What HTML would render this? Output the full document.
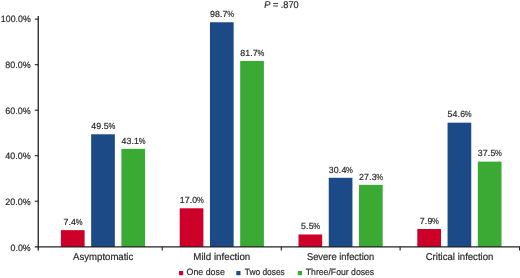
<!DOCTYPE html>
<html><head><meta charset="utf-8"><title>chart</title>
<style>
html,body{margin:0;padding:0;background:#fff;}
body{width:520px;height:278px;overflow:hidden;font-family:"Liberation Sans",sans-serif;}
svg{display:block;will-change:transform;}
text{font-family:"Liberation Sans",sans-serif;fill:#2b2b2b;text-rendering:geometricPrecision;}
</style></head><body>
<svg width="520" height="278" viewBox="0 0 520 278">
<rect width="520" height="278" fill="#ffffff"/>

<rect x="60.90" y="230.15" width="23.7" height="16.85" fill="#cc0029"/>
<text y="224.90" font-size="8.8" stroke="#2b2b2b" stroke-width="0.2" x="63.44 68.44 71.04">7.4</text><text transform="translate(75.69,224.90) scale(0.87,1)" font-size="8.8" stroke="#2b2b2b" stroke-width="0.2">%</text>
<rect x="91.15" y="134.29" width="23.7" height="112.71" fill="#1b4a86"/>
<text y="129.04" font-size="8.8" stroke="#2b2b2b" stroke-width="0.2" x="91.19 96.19 101.19 103.79">49.5</text><text transform="translate(108.44,129.04) scale(0.87,1)" font-size="8.8" stroke="#2b2b2b" stroke-width="0.2">%</text>
<rect x="121.40" y="148.86" width="23.7" height="98.14" fill="#3aaa35"/>
<text y="143.61" font-size="8.8" stroke="#2b2b2b" stroke-width="0.2" x="121.44 126.44 131.44 134.04">43.1</text><text transform="translate(138.69,143.61) scale(0.87,1)" font-size="8.8" stroke="#2b2b2b" stroke-width="0.2">%</text>
<rect x="179.70" y="208.29" width="23.7" height="38.71" fill="#cc0029"/>
<text y="203.04" font-size="8.8" stroke="#2b2b2b" stroke-width="0.2" x="179.74 184.74 189.74 192.34">17.0</text><text transform="translate(196.99,203.04) scale(0.87,1)" font-size="8.8" stroke="#2b2b2b" stroke-width="0.2">%</text>
<rect x="209.95" y="22.26" width="23.7" height="224.74" fill="#1b4a86"/>
<text y="17.01" font-size="8.8" stroke="#2b2b2b" stroke-width="0.2" x="209.99 214.99 219.99 222.59">98.7</text><text transform="translate(227.24,17.01) scale(0.87,1)" font-size="8.8" stroke="#2b2b2b" stroke-width="0.2">%</text>
<rect x="240.20" y="60.97" width="23.7" height="186.03" fill="#3aaa35"/>
<text y="55.72" font-size="8.8" stroke="#2b2b2b" stroke-width="0.2" x="240.24 245.24 250.24 252.84">81.7</text><text transform="translate(257.49,55.72) scale(0.87,1)" font-size="8.8" stroke="#2b2b2b" stroke-width="0.2">%</text>
<rect x="298.50" y="234.48" width="23.7" height="12.52" fill="#cc0029"/>
<text y="229.23" font-size="8.8" stroke="#2b2b2b" stroke-width="0.2" x="301.04 306.04 308.64">5.5</text><text transform="translate(313.29,229.23) scale(0.87,1)" font-size="8.8" stroke="#2b2b2b" stroke-width="0.2">%</text>
<rect x="328.75" y="177.78" width="23.7" height="69.22" fill="#1b4a86"/>
<text y="172.53" font-size="8.8" stroke="#2b2b2b" stroke-width="0.2" x="328.79 333.79 338.79 341.39">30.4</text><text transform="translate(346.04,172.53) scale(0.87,1)" font-size="8.8" stroke="#2b2b2b" stroke-width="0.2">%</text>
<rect x="359.00" y="184.84" width="23.7" height="62.16" fill="#3aaa35"/>
<text y="179.59" font-size="8.8" stroke="#2b2b2b" stroke-width="0.2" x="359.04 364.04 369.04 371.64">27.3</text><text transform="translate(376.29,179.59) scale(0.87,1)" font-size="8.8" stroke="#2b2b2b" stroke-width="0.2">%</text>
<rect x="417.30" y="229.01" width="23.7" height="17.99" fill="#cc0029"/>
<text y="223.76" font-size="8.8" stroke="#2b2b2b" stroke-width="0.2" x="419.84 424.84 427.44">7.9</text><text transform="translate(432.09,223.76) scale(0.87,1)" font-size="8.8" stroke="#2b2b2b" stroke-width="0.2">%</text>
<rect x="447.55" y="122.68" width="23.7" height="124.32" fill="#1b4a86"/>
<text y="117.43" font-size="8.8" stroke="#2b2b2b" stroke-width="0.2" x="447.59 452.59 457.59 460.19">54.6</text><text transform="translate(464.84,117.43) scale(0.87,1)" font-size="8.8" stroke="#2b2b2b" stroke-width="0.2">%</text>
<rect x="477.80" y="161.61" width="23.7" height="85.39" fill="#3aaa35"/>
<text y="156.36" font-size="8.8" stroke="#2b2b2b" stroke-width="0.2" x="477.84 482.84 487.84 490.44">37.5</text><text transform="translate(495.09,156.36) scale(0.87,1)" font-size="8.8" stroke="#2b2b2b" stroke-width="0.2">%</text>
<path d="M38.25 15.9V250.5" stroke="#222222" stroke-width="1.3" fill="none"/>
<path d="M34.8 246.75H520" stroke="#222222" stroke-width="1.25" fill="none"/>
<text x="30.75" y="250.50" font-size="9.2" text-anchor="end" textLength="20.20" lengthAdjust="spacingAndGlyphs" stroke="#2b2b2b" stroke-width="0.2">0.0%</text>
<path d="M34.8 201.23H38.3" stroke="#222222" stroke-width="1.1"/>
<text x="30.75" y="204.86" font-size="9.2" text-anchor="end" textLength="25.40" lengthAdjust="spacingAndGlyphs" stroke="#2b2b2b" stroke-width="0.2">20.0%</text>
<path d="M34.8 155.71H38.3" stroke="#222222" stroke-width="1.1"/>
<text x="30.75" y="159.22" font-size="9.2" text-anchor="end" textLength="25.40" lengthAdjust="spacingAndGlyphs" stroke="#2b2b2b" stroke-width="0.2">40.0%</text>
<path d="M34.8 110.19H38.3" stroke="#222222" stroke-width="1.1"/>
<text x="30.75" y="113.58" font-size="9.2" text-anchor="end" textLength="25.40" lengthAdjust="spacingAndGlyphs" stroke="#2b2b2b" stroke-width="0.2">60.0%</text>
<path d="M34.8 64.67H38.3" stroke="#222222" stroke-width="1.1"/>
<text x="30.75" y="67.94" font-size="9.2" text-anchor="end" textLength="25.40" lengthAdjust="spacingAndGlyphs" stroke="#2b2b2b" stroke-width="0.2">80.0%</text>
<path d="M34.8 19.15H38.3" stroke="#222222" stroke-width="1.1"/>
<text x="30.75" y="22.30" font-size="9.2" text-anchor="end" textLength="29.90" lengthAdjust="spacingAndGlyphs" stroke="#2b2b2b" stroke-width="0.2">100.0%</text>
<path d="M162.2 246.75V250.5" stroke="#222222" stroke-width="1.1"/>
<path d="M281.3 246.75V250.5" stroke="#222222" stroke-width="1.1"/>
<path d="M400.1 246.75V250.5" stroke="#222222" stroke-width="1.1"/>
<path d="M519.55 246.75V250.5" stroke="#222222" stroke-width="1.1"/>
<text x="103.20" y="260.20" font-size="9.9" text-anchor="middle" textLength="60.20" lengthAdjust="spacingAndGlyphs" stroke="#2b2b2b" stroke-width="0.2">Asymptomatic</text>
<text x="221.80" y="260.20" font-size="9.9" text-anchor="middle" textLength="57.00" lengthAdjust="spacingAndGlyphs" stroke="#2b2b2b" stroke-width="0.2">Mild infection</text>
<text x="340.55" y="260.20" font-size="9.9" text-anchor="middle" textLength="67.30" lengthAdjust="spacingAndGlyphs" stroke="#2b2b2b" stroke-width="0.2">Severe infection</text>
<text x="459.55" y="260.20" font-size="9.9" text-anchor="middle" textLength="67.70" lengthAdjust="spacingAndGlyphs" stroke="#2b2b2b" stroke-width="0.2">Critical infection</text>
<text x="264.2" y="7.9" font-size="9.8" textLength="34.5" lengthAdjust="spacingAndGlyphs" stroke="#2b2b2b" stroke-width="0.2"><tspan font-style="italic">P</tspan> = .870</text>
<rect x="179.0" y="271.0" width="4.2" height="4.2" fill="#cc0029"/>
<text x="186.60" y="275.35" font-size="9.2" text-anchor="start" textLength="38.20" lengthAdjust="spacingAndGlyphs" stroke="#2b2b2b" stroke-width="0.2">One dose</text>
<rect x="236.3" y="271.0" width="4.2" height="4.2" fill="#1b4a86"/>
<text x="244.80" y="275.35" font-size="9.2" text-anchor="start" textLength="40.00" lengthAdjust="spacingAndGlyphs" stroke="#2b2b2b" stroke-width="0.2">Two doses</text>
<rect x="297.8" y="271.0" width="4.2" height="4.2" fill="#3aaa35"/>
<text x="305.80" y="275.35" font-size="9.2" text-anchor="start" textLength="68.40" lengthAdjust="spacingAndGlyphs" stroke="#2b2b2b" stroke-width="0.2">Three/Four doses</text>
</svg></body></html>
